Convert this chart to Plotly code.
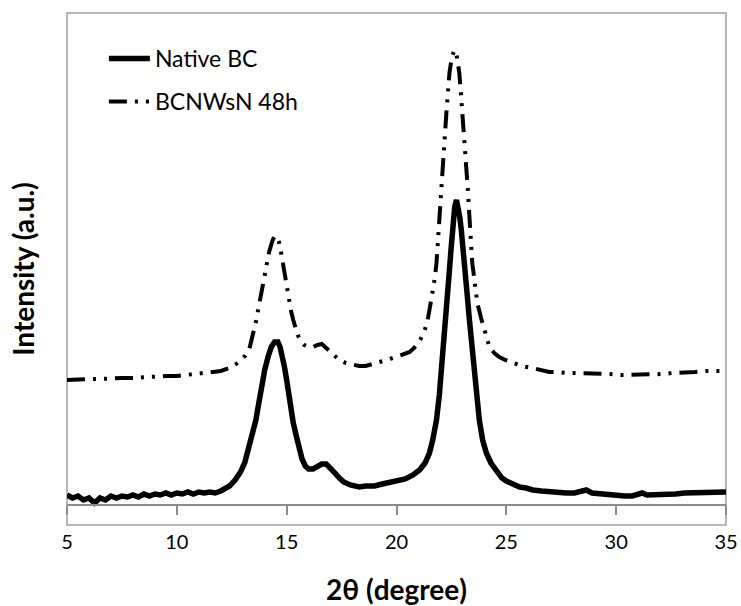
import plotly.graph_objects as go

# 2-theta positions and intensities (a.u.)
two_theta_native = [5.0, 5.25, 5.5, 5.75, 6.0, 6.25, 6.5, 6.75, 7.0, 7.25, 7.5, 7.75, 8.0, 8.25,
                    8.5, 8.75, 9.0, 9.25, 9.5, 9.75, 10.0, 10.25, 10.5, 10.75, 11.0, 11.25,
                    11.5, 11.75, 12.0, 12.2, 12.4, 12.65, 12.9, 13.1, 13.3, 13.45, 13.6, 13.7,
                    13.8, 13.9, 14.0, 14.15, 14.3, 14.45, 14.6, 14.7, 14.8, 14.9, 15.0, 15.1,
                    15.2, 15.3, 15.45, 15.55, 15.7, 15.85, 16.0, 16.2, 16.4, 16.6, 16.8, 17.0,
                    17.2, 17.4, 17.6, 17.9, 18.3, 18.6, 19.0, 19.35, 19.7, 20.05, 20.4, 20.75,
                    21.05, 21.3, 21.5, 21.65, 21.82, 21.95, 22.05, 22.17, 22.27, 22.35, 22.41,
                    22.48, 22.55, 22.65, 22.73, 22.8, 22.88, 22.95, 23.05, 23.14, 23.22, 23.32,
                    23.43, 23.55, 23.65, 23.77, 23.92, 24.09, 24.3, 24.55, 24.8, 25.0, 25.27,
                    25.6, 25.9, 26.2, 26.6, 27.0, 27.4, 27.73, 28.1, 28.4, 28.64, 28.9, 29.3,
                    29.68, 30.0, 30.4, 30.73, 31.0, 31.18, 31.4, 31.8, 32.27, 32.7, 33.1, 33.45,
                    33.8, 34.2, 34.5, 34.82, 35.0]
native_bc = [30, 27, 29, 25, 27, 22, 27, 25, 29, 27, 29, 28, 30, 28,
             31, 29, 31, 30, 32, 30, 32, 31, 33, 31, 33, 32,
             33, 32, 34, 36, 39, 45, 53, 63, 78, 90, 105, 118,
             132, 144, 155, 168, 178, 183, 183, 178, 170, 158, 145, 130,
             115, 102, 88, 78, 66, 59, 56, 56, 58, 61, 61, 57,
             52, 47, 43, 40, 38, 39, 39, 41, 43, 44, 46, 50,
             55, 62, 72, 85, 105, 130, 155, 180, 205, 230, 255,
             275, 295, 318, 325, 318, 308, 295, 275, 255, 230, 205,
             180, 155, 130, 105, 85, 72, 62, 55, 47, 44, 41,
             38, 37, 35, 34, 33, 33, 32, 32, 33, 35, 32, 31,
             30, 30, 29, 29, 30, 32, 30, 30, 30, 31, 32, 32,
             32, 33, 33, 33, 33]

two_theta_48h = [5.0, 5.5, 6.0, 6.5, 7.0, 7.5, 8.0, 8.5, 9.0, 9.5, 10.0, 10.5, 11.0, 11.5,
                 12.0, 12.4, 12.7, 12.9, 13.1, 13.3, 13.45, 13.6, 13.7, 13.8, 13.9, 14.0,
                 14.1, 14.2, 14.35, 14.45, 14.55, 14.65, 14.75, 14.85, 14.95, 15.1, 15.2,
                 15.3, 15.4, 15.5, 15.65, 15.8, 16.0, 16.2, 16.4, 16.6, 16.75, 16.9, 17.15,
                 17.4, 17.7, 18.0, 18.3, 18.6, 18.95, 19.3, 19.7, 20.1, 20.4, 20.6, 20.8,
                 20.95, 21.1, 21.27, 21.4, 21.5, 21.62, 21.73, 21.82, 21.9, 21.95, 22.02,
                 22.09, 22.18, 22.27, 22.34, 22.41, 22.52, 22.64, 22.75, 22.86, 22.93, 23.0,
                 23.09, 23.18, 23.25, 23.32, 23.4, 23.45, 23.55, 23.68, 23.85, 24.0, 24.12,
                 24.23, 24.45, 24.68, 24.95, 25.27, 25.7, 26.18, 26.6, 26.95, 27.3, 27.73,
                 28.2, 28.77, 29.2, 29.68, 30.2, 30.73, 31.3, 31.95, 32.2, 32.55, 32.9,
                 33.18, 33.6, 34.09, 34.5, 34.82, 35.0]
bcnwsn_48h = [145, 146, 146, 146, 147, 147, 147, 148, 148, 149, 149, 150, 151, 152,
              154, 157, 161, 165, 169, 176, 188, 203, 215, 227, 238, 252,
              264, 273, 284, 289, 288, 283, 272, 258, 243, 225, 214,
              205, 197, 190, 184, 180, 178, 178, 180, 181, 178, 175, 169,
              165, 162, 160, 159, 159, 161, 163, 166, 169, 171, 173, 177,
              182, 186, 194, 203, 215, 230, 245, 262, 290, 312, 338,
              362, 388, 412, 432, 452, 468, 475, 468, 452, 432, 412,
              388, 362, 335, 308, 282, 262, 245, 222, 207, 195, 186,
              178, 172, 168, 165, 162, 159, 157, 155, 153, 153, 152,
              152, 152, 151, 151, 150, 150, 150, 150, 151, 152, 152,
              153, 153, 154, 154, 154, 154]

x_ticks = [5, 10, 15, 20, 25, 30, 35]

FONT = "Lato, Open Sans, sans-serif"

fig = go.Figure()
fig.add_trace(go.Scatter(x=two_theta_native, y=native_bc, mode="lines", name="Native BC",
                         legendgroup="a",
                         line=dict(color="black", width=5.5)))
fig.add_trace(go.Scatter(x=two_theta_48h, y=bcnwsn_48h, mode="lines", name="BCNWsN 48h",
                         legendgroup="b",
                         line=dict(color="black", width=4,
                                   dash="18px,8px,3px,8px,3px,8px")))

fig.update_layout(
    width=741, height=606,
    margin=dict(l=67, r=15, t=13, b=81),
    paper_bgcolor="white", plot_bgcolor="white",
    font=dict(family=FONT, color="black"),
    legend=dict(x=0.056, y=0.953, xanchor="left", yanchor="top",
                font=dict(size=23, family=FONT), bgcolor="rgba(0,0,0,0)",
                itemwidth=41, traceorder="grouped", tracegroupgap=10),
    shapes=[dict(type="rect", xref="paper", yref="paper", x0=0, x1=1, y0=0, y1=1,
                 line=dict(color="#a0a0a0", width=1.5), layer="below")],
)
fig.update_xaxes(range=[5, 35], tickvals=x_ticks, anchor="free", position=20 / 512,
                 showline=True, linecolor="#8c8c8c", linewidth=1.5,
                 ticks="outside", ticklen=9, tickwidth=1.5, tickcolor="#8c8c8c",
                 ticklabelstandoff=10, tickfont=dict(size=20, family=FONT),
                 showgrid=False, zeroline=False, automargin=False,
                 title=dict(text="<b>2θ (degree)</b>", font=dict(size=28, family=FONT),
                            standoff=28))
fig.update_yaxes(range=[0, 512], showticklabels=False, showgrid=False, zeroline=False,
                 showline=False, ticks="", automargin=False,
                 title=dict(text="<b>Intensity (a.u.)</b>", font=dict(size=28, family=FONT),
                            standoff=23))

# drop the default body margin so the figure sits at the page's top-left corner
fig.write_html("out.html", config={"displayModeBar": False},
               post_script="document.body.style.margin='0';")
